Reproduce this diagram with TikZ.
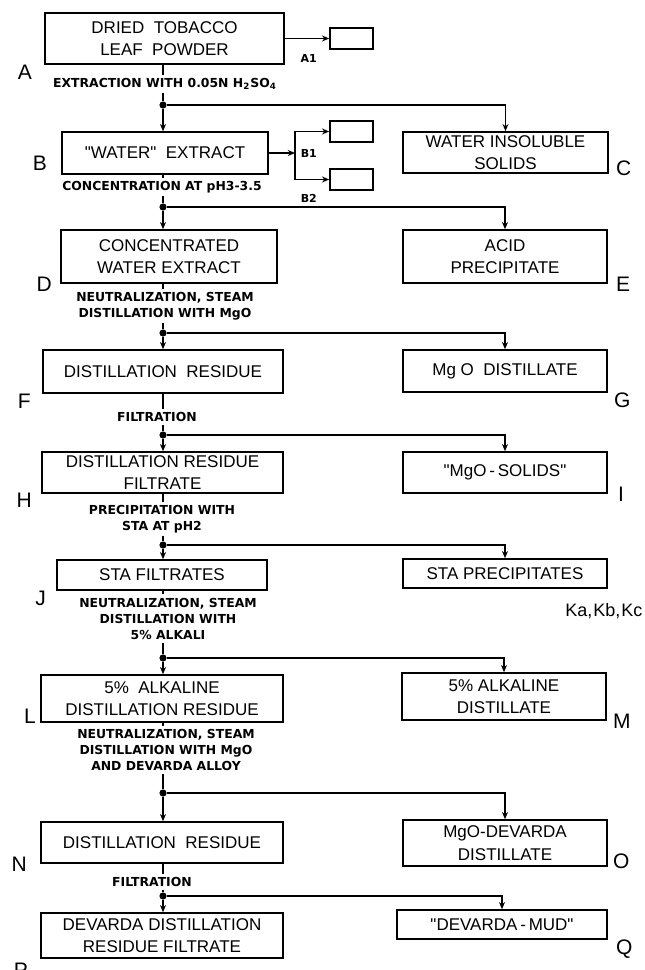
\documentclass[tikz,border=0pt]{standalone}
\usepackage{fontspec}
\setmainfont{Liberation Sans}
\newfontfamily\condfont{DejaVu Sans}
\usetikzlibrary{arrows.meta, positioning}

\begin{document}
\begin{tikzpicture}[
  x=0.5pt, y=-0.5pt,
  every node/.style={font=\fontsize{8.5}{11.2}\selectfont},
  proc/.style 2 args={draw, line width=0.8pt, align=center, inner sep=1pt,
                      minimum width=#1, minimum height=#2},
  cut/.style={draw, line width=0.8pt, minimum width=21.5pt,
              minimum height=10.5pt, inner sep=0pt},
  cond/.style={align=center, inner sep=1.5pt,
               font=\condfont\bfseries\fontsize{6.2}{8}\selectfont},
  tag/.style={inner sep=0pt, font=\fontsize{10.5}{12}\selectfont},
  subtag/.style={inner sep=0pt, font=\condfont\bfseries\fontsize{5.5}{6}\selectfont},
  jn/.style={circle, fill, inner sep=0pt, minimum size=3.6pt},
  arr/.style={-{Stealth[length=3.6pt, width=3pt]}, line width=0.6pt},
  link/.style={line width=0.6pt},
]
\useasboundingbox (0,0) rectangle (644,970);

% Main stream (left column)
\node[proc={119.5pt}{25.5pt}] (A) at (164.5,38.5) {DRIED~~TOBACCO\\LEAF~~POWDER};
\node[proc={103pt}{21pt}]     (B) at (165,153)    {\textquotedbl WATER\textquotedbl~~EXTRACT};
\node[proc={108pt}{26.5pt}]   (D) at (169,256.5)  {CONCENTRATED\\WATER EXTRACT};
\node[proc={120pt}{21.5pt}]   (F) at (163,371.5)  {DISTILLATION~~RESIDUE};
\node[proc={120.5pt}{20.5pt}] (H) at (162.5,472.5) {DISTILLATION RESIDUE\\FILTRATE};
\node[proc={105pt}{15pt}]     (J) at (162,575)    {STA FILTRATES};
\node[proc={121pt}{23.5pt}]   (L) at (162,698.5)  {5\%~~ALKALINE\\DISTILLATION RESIDUE};
\node[proc={121pt}{20.5pt}]   (N) at (162,842.5)  {DISTILLATION~~RESIDUE};
\node[proc={121pt}{22.5pt}]   (P) at (162,935.5)  {DEVARDA DISTILLATION\\RESIDUE FILTRATE};

% Side products (right column)
\node[proc={102.5pt}{20.5pt}] (C) at (505.5,152.5) {WATER INSOLUBLE\\SOLIDS};
\node[proc={102pt}{26.5pt}]   (E) at (505,256.5)  {ACID\\PRECIPITATE};
\node[proc={102pt}{21pt}]     (G) at (505,371)    {Mg O~~DISTILLATE};
\node[proc={102pt}{20.5pt}]   (I) at (505,472.5)  {\textquotedbl MgO\,-\,SOLIDS\textquotedbl};
\node[proc={102pt}{14.5pt}]   (K) at (505,573.5)  {STA PRECIPITATES};
\node[proc={102pt}{23.5pt}]   (M) at (504,696.5)  {5\% ALKALINE\\DISTILLATE};
\node[proc={102pt}{23pt}]     (O) at (505,843)    {MgO-DEVARDA\\DISTILLATE};
\node[proc={105pt}{14.5pt}]   (Q) at (502,924.5)  {\textquotedbl DEVARDA\,-\,MUD\textquotedbl};

% Small empty boxes
\node[cut] (A1) at (351.5,38.5) {};
\node[cut] (B1) at (351.5,131.5) {};
\node[cut] (B2) at (351.5,179.5) {};
\coordinate (bsplit) at (295,153);

% Treatments
\node[cond] (c1) at (165,84)  {EXTRACTION WITH 0.05N H\textsubscript{2}SO\textsubscript{4}};
\node[cond] (c2) at (162,187) {CONCENTRATION AT pH3-3.5};
\node[cond] (c3) at (165,306) {NEUTRALIZATION, STEAM\\DISTILLATION WITH MgO};
\node[cond] (c4) at (157,417) {FILTRATION};
\node[cond] (c5) at (162,519) {PRECIPITATION WITH\\STA AT pH2};
\node[cond] (c6) at (168,618.5) {NEUTRALIZATION, STEAM\\DISTILLATION WITH\\5\% ALKALI};
\node[cond] (c7) at (166,750) {NEUTRALIZATION, STEAM\\DISTILLATION WITH MgO\\AND DEVARDA ALLOY};
\node[cond] (c8) at (152,882) {FILTRATION};

% Junction dots
\node[jn] (d1) at (163,105) {};
\node[jn] (d2) at (163,207) {};
\node[jn] (d3) at (163,333) {};
\node[jn] (d4) at (163,435) {};
\node[jn] (d5) at (163,545) {};
\node[jn] (d6) at (163,658) {};
\node[jn] (d7) at (163,793) {};
\node[jn] (d8) at (163,896) {};

% Letters
\node[tag, below left=0pt and 6pt of A.south west] (lA) {A};
\node[tag, above left=2pt and 7pt of B.south west] (lB) {B};
\node[tag, left=4pt of D.south west] (lD) {D};
\node[tag, below left=0pt and 5.5pt of F.south west] (lF) {F};
\node[tag, below left=-0.5pt and 4.5pt of H.south west] (lH) {H};
\node[tag, below left=0pt and 5pt of J.south west] (lJ) {J};
\node[tag, above left=-0.5pt and 2pt of L.south west] (lL) {L};
\node[tag, left=6.5pt of N.south west] (lN) {N};
\node[tag, below left=2pt and 6pt of P.south west] (lP) {P};
\node[tag, above right=-1pt and 3.5pt of C.south east] (lC) {C};
\node[tag, right=4pt of E.south east] (lE) {E};
\node[tag, below right=0pt and 3pt of G.south east] (lG) {G};
\node[tag, right=5pt of I.south east] (lI) {I};
\node[tag, below=7pt of K.south east, anchor=north east, xshift=17.5pt,
      font=\fontsize{9}{10}\selectfont] (lK) {Ka,\kern0.5pt Kb,\kern0.5pt Kc};
\node[tag, right=3pt of M.south east] (lM) {M};
\node[tag, above right=-1pt and 2.5pt of O.south east] (lO) {O};
\node[tag, below right=0pt and 4pt of Q.south east] (lQ) {Q};
\node[subtag, below left=2pt and 6pt of A1.south west] (lA1) {A1};
\node[subtag, below left=3pt and 6pt of B1.south west] (lB1) {B1};
\node[subtag, below left=1.5pt and 6pt of B2.south west] (lB2) {B2};

% Side branches to the small boxes
\draw[arr] (A.east) -- (A1.west);
\draw[arr] (B.east) -- (bsplit);
\draw[arr] (bsplit) |- (B1.west);
\draw[arr] (bsplit) |- (B2.west);

% Spine
\draw[link] (A.south -| d1) -- (c1.north -| d1);
\draw[link] (c1.south -| d1) -- (d1);
\draw[arr] (d1) -- (B.north -| d1);
\draw[arr] (d1) -| (C.north);

\draw[link] (B.south -| d2) -- (c2.north -| d2);
\draw[link] (c2.south -| d2) -- (d2);
\draw[arr] (d2) -- (D.north -| d2);
\draw[arr] (d2) -| (E.north);

\draw[link] (D.south -| d3) -- (c3.north -| d3);
\draw[link] (c3.south -| d3) -- (d3);
\draw[arr] (d3) -- (F.north -| d3);
\draw[arr] (d3) -| (G.north);

\draw[link] (F.south -| d4) -- (c4.north -| d4);
\draw[link] (c4.south -| d4) -- (d4);
\draw[arr] (d4) -- (H.north -| d4);
\draw[arr] (d4) -| (I.north);

\draw[link] (H.south -| d5) -- (c5.north -| d5);
\draw[link] (c5.south -| d5) -- (d5);
\draw[arr] (d5) -- (J.north -| d5);
\draw[arr] (d5) -| (K.north);

\draw[link] (J.south -| d6) -- (c6.north -| d6);
\draw[link] (c6.south -| d6) -- (d6);
\draw[arr] (d6) -- (L.north -| d6);
\draw[arr] (d6) -| (M.north);

\draw[link] (L.south -| d7) -- (c7.north -| d7);
\draw[link] (c7.south -| d7) -- (d7);
\draw[arr] (d7) -- (N.north -| d7);
\draw[arr] (d7) -| (O.north);

\draw[link] (N.south -| d8) -- (c8.north -| d8);
\draw[link] (c8.south -| d8) -- (d8);
\draw[arr] (d8) -- (P.north -| d8);
\draw[arr] (d8) -| (Q.north);

\end{tikzpicture}
\end{document}
